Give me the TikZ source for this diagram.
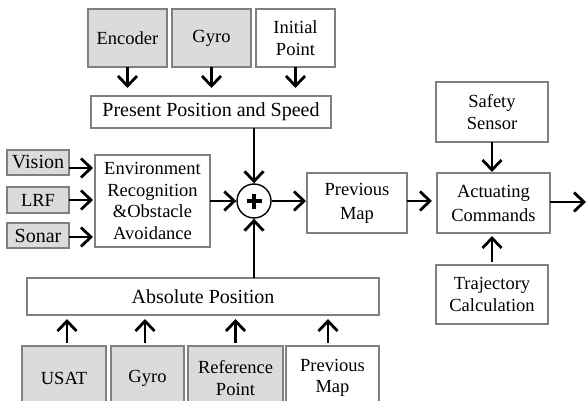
\documentclass[tikz,border=0pt]{standalone}
\usepackage{fontspec}
\setmainfont{Liberation Serif}
\usetikzlibrary{arrows.meta,calc}
\definecolor{boxgray}{gray}{0.5}
\definecolor{fillgray}{gray}{0.86}
\begin{document}
\begin{tikzpicture}[x=1pt,y=-1pt,
 box/.style={draw=boxgray,line width=1.1pt,fill=white,inner sep=0pt,outer sep=0pt,align=center,font=\fontsize{18.5}{21.6}\selectfont},
 gbox/.style={box,fill=fillgray},
 bigtxt/.style={font=\fontsize{20}{24}\selectfont},
 arr/.style={line width=2.8pt,-{Straight Barb[length=10pt,width=19pt,line width=2.8pt]}},
]
\useasboundingbox (0,0) rectangle (586,401);
% top inputs
\node[gbox,minimum width=79pt,minimum height=58pt] (enc) at (127.5,38) {Encoder};
\node[gbox,minimum width=79pt,minimum height=58pt] (gyroa) at (211.5,38) {Gyro};
\node[box,minimum width=79pt,minimum height=58pt] (init) at (295.5,38) {Initial\\Point};
\node[box,bigtxt,minimum width=240pt,minimum height=32pt] (pres) at (211,112) {Present Position and Speed};
% left sensors
\node[gbox,bigtxt,minimum width=62pt,minimum height=25pt] (vision) at (38,162.5) {Vision};
\node[gbox,minimum width=62pt,minimum height=26pt] (lrf) at (38,200) {LRF};
\node[gbox,bigtxt,minimum width=62pt,minimum height=25pt] (sonar) at (38,235.5) {Sonar};
\node[box,minimum width=115pt,minimum height=92pt] (env) at (152.5,201) {Environment\\Recognition\\\&Obstacle\\Avoidance};
% sum
\node[circle,draw,line width=1.4pt,minimum size=34pt,inner sep=0pt] (sum) at (254,201) {};
\draw[line width=3.8pt] ($(sum.center)+(-7.5,0)$) -- ($(sum.center)+(7.5,0)$);
\draw[line width=3.8pt] ($(sum.center)+(0,-7.5)$) -- ($(sum.center)+(0,7.5)$);
% right side
\node[box,font=\fontsize{18.5}{24}\selectfont,minimum width=100pt,minimum height=60pt] (prev) at (357,203) {Previous\\Map};
\node[box,font=\fontsize{18.5}{24}\selectfont,minimum width=113pt,minimum height=60pt] (act) at (493.5,203) {Actuating\\Commands};
\node[box,minimum width=112pt,minimum height=60pt] (safe) at (492,112) {Safety\\Sensor};
\node[box,minimum width=112pt,minimum height=59pt] (traj) at (492,294.5) {Trajectory\\Calculation};
\coordinate (out) at (586,202);
% absolute position
\node[box,bigtxt,minimum width=352pt,minimum height=37pt] (abs) at (203,296.5) {Absolute Position};
\node[gbox,minimum width=84pt,minimum height=64pt] (usat) at (64,378) {USAT};
\node[gbox,minimum width=73pt,minimum height=64pt] (gyrob) at (147.5,378) {Gyro};
\node[gbox,minimum width=95pt,minimum height=64pt] (ref) at (235.5,378) {Reference\\Point};
\node[box,minimum width=93pt,minimum height=64pt] (pmap) at (332.5,378) {Previous\\Map};
% arrows top
\draw[arr,shorten >=8pt] (enc.south) -- (enc.south |- pres.north);
\draw[arr,shorten >=8pt] (gyroa.south) -- (gyroa.south |- pres.north);
\draw[arr,shorten >=8pt] (init.south) -- (init.south |- pres.north);
\draw[arr] (sum.north |- pres.south) -- (sum.north);
% left arrows
\draw[arr,shorten >=2pt] ([yshift=-5.5pt]vision.east) -- ([yshift=-5.5pt]vision.east -| env.west);
\draw[arr,shorten >=2pt] (lrf.east) -- (lrf.east -| env.west);
\draw[arr,shorten >=2pt] ([yshift=-1.5pt]sonar.east) -- ([yshift=-1.5pt]sonar.east -| env.west);
\draw[arr] (env.east |- sum.west) -- (sum.west);
% right arrows
\draw[arr,shorten >=1pt] (sum.east) -- (sum.east -| prev.west);
\draw[arr,shorten >=5pt] (sum.east -| prev.east) -- (sum.east -| act.west);
\draw[arr,shorten >=1pt] (safe.south) -- (safe.south |- act.north);
\draw[arr,shorten >=3pt,shorten <=3pt] (traj.north) -- (traj.north |- act.south);
\draw[arr] (out -| act.east) -- (out);
% bottom arrows
\draw[arr] (sum.south |- abs.north) -- (sum.south);
\draw[arr,shorten >=4pt,shorten <=3pt] ([xshift=3pt]usat.north) -- ([xshift=3pt]usat.north |- abs.south);
\draw[arr,shorten >=4pt,shorten <=3pt] ([xshift=-2.5pt]gyrob.north) -- ([xshift=-2.5pt]gyrob.north |- abs.south);
\draw[arr,shorten >=4pt,shorten <=3pt] (ref.north) -- (ref.north |- abs.south);
\draw[arr,shorten >=4pt,shorten <=3pt] ([xshift=-4.5pt]pmap.north) -- ([xshift=-4.5pt]pmap.north |- abs.south);
\end{tikzpicture}
\end{document}
